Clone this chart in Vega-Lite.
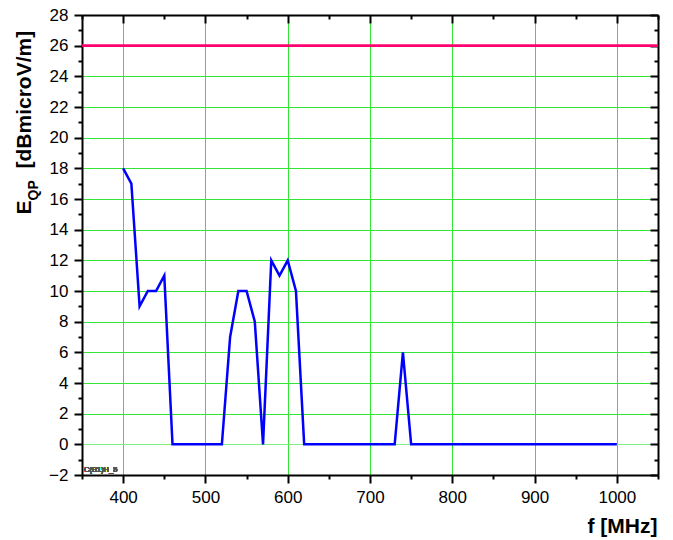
{
  "$schema": "https://vega.github.io/schema/vega-lite/v6.json",
  "width": 576,
  "height": 460,
  "autosize": {"type": "none"},
  "padding": {"left": 82, "top": 15, "right": 15, "bottom": 65},
  "background": "white",
  "config": {
    "view": {"stroke": null},
    "font": "Liberation Sans",
    "axis": {
      "labelFont": "Liberation Sans",
      "titleFont": "Liberation Sans",
      "labelColor": "black",
      "titleColor": "black",
      "domainColor": "black"
    }
  },
  "data": {
    "values": [
      {"f": 400, "v": 18}, {"f": 410, "v": 17}, {"f": 420, "v": 9}, {"f": 430, "v": 10},
      {"f": 440, "v": 10}, {"f": 450, "v": 11}, {"f": 460, "v": 0}, {"f": 470, "v": 0},
      {"f": 480, "v": 0}, {"f": 490, "v": 0}, {"f": 500, "v": 0}, {"f": 510, "v": 0},
      {"f": 520, "v": 0}, {"f": 530, "v": 7}, {"f": 540, "v": 10}, {"f": 550, "v": 10},
      {"f": 560, "v": 8}, {"f": 570, "v": 0}, {"f": 580, "v": 12}, {"f": 590, "v": 11},
      {"f": 600, "v": 12}, {"f": 610, "v": 10}, {"f": 620, "v": 0}, {"f": 630, "v": 0},
      {"f": 640, "v": 0}, {"f": 650, "v": 0}, {"f": 660, "v": 0}, {"f": 670, "v": 0},
      {"f": 680, "v": 0}, {"f": 690, "v": 0}, {"f": 700, "v": 0}, {"f": 710, "v": 0},
      {"f": 720, "v": 0}, {"f": 730, "v": 0}, {"f": 740, "v": 6}, {"f": 750, "v": 0},
      {"f": 760, "v": 0}, {"f": 770, "v": 0}, {"f": 780, "v": 0}, {"f": 790, "v": 0},
      {"f": 800, "v": 0}, {"f": 810, "v": 0}, {"f": 820, "v": 0}, {"f": 830, "v": 0},
      {"f": 840, "v": 0}, {"f": 850, "v": 0}, {"f": 860, "v": 0}, {"f": 870, "v": 0},
      {"f": 880, "v": 0}, {"f": 890, "v": 0}, {"f": 900, "v": 0}, {"f": 910, "v": 0},
      {"f": 920, "v": 0}, {"f": 930, "v": 0}, {"f": 940, "v": 0}, {"f": 950, "v": 0},
      {"f": 960, "v": 0}, {"f": 970, "v": 0}, {"f": 980, "v": 0}, {"f": 990, "v": 0},
      {"f": 1000, "v": 0}
    ]
  },
  "layer": [
    {
      "mark": {"type": "line", "color": "#0000ff", "strokeWidth": 2.5},
      "encoding": {
        "x": {
          "field": "f", "type": "quantitative",
          "scale": {"domain": [350, 1050], "nice": false, "zero": false},
          "axis": {
            "orient": "bottom",
            "values": [400, 500, 600, 700, 800, 900, 1000],
            "format": "d",
            "labelFontSize": 17,
            "labelPadding": 6,
            "tickSize": 8,
            "tickWidth": 2,
            "tickColor": "black",
            "domainWidth": 2,
            "grid": true,
            "gridColor": "#33e633",
            "title": "f [MHz]",
            "titleFontSize": 21,
            "titleFontWeight": "bold",
            "titleAnchor": "end",
            "titleAlign": "right",
            "titleBaseline": "alphabetic",
            "titleX": 575,
            "titleY": 57
          }
        },
        "y": {
          "field": "v", "type": "quantitative",
          "scale": {"domain": [-2, 28], "nice": false, "zero": false},
          "axis": {
            "orient": "left",
            "values": [-2, 0, 2, 4, 6, 8, 10, 12, 14, 16, 18, 20, 22, 24, 26, 28],
            "format": "d",
            "labelFontSize": 17,
            "labelPadding": 6,
            "tickSize": 8,
            "tickWidth": 2,
            "tickColor": "black",
            "domainWidth": 2,
            "grid": true,
            "gridColor": {"condition": {"test": "datum.value === 0", "value": "#80f080"}, "value": "#33e633"},
            "title": "[dBmicroV/m]",
            "titleFontSize": 21,
            "titleFontWeight": "bold",
            "titleAngle": 270,
            "titleAlign": "left",
            "titleBaseline": "alphabetic",
            "titleX": -52,
            "titleY": 153
          }
        }
      }
    },
    {
      "data": {"values": [{"f": 350, "lim": 26}, {"f": 1050, "lim": 26}]},
      "mark": {"type": "line", "color": "#ff0070", "strokeWidth": 2.5},
      "encoding": {
        "x": {
          "field": "f", "type": "quantitative",
          "axis": {
            "orient": "top",
            "values": [400, 500, 600, 700, 800, 900, 1000],
            "labels": false,
            "grid": false,
            "tickSize": -8,
            "tickWidth": 2,
            "tickColor": "black",
            "domainWidth": 2,
            "title": null
          }
        },
        "y": {
          "field": "lim", "type": "quantitative",
          "axis": {
            "orient": "right",
            "values": [-2, 0, 2, 4, 6, 8, 10, 12, 14, 16, 18, 20, 22, 24, 26, 28],
            "labels": false,
            "grid": false,
            "tickSize": -8,
            "tickWidth": 2,
            "tickColor": "black",
            "domainWidth": 2,
            "title": null
          }
        }
      }
    },
    {
      "data": {"values": [{"f": 350, "lim": 26}, {"f": 1050, "lim": 26}]},
      "mark": {"type": "line", "color": "#ff0070", "strokeWidth": 2.5},
      "encoding": {
        "x": {
          "field": "f", "type": "quantitative",
          "axis": {
            "orient": "top",
            "values": [350, 450, 550, 650, 750, 850, 950, 1050],
            "labels": false,
            "grid": false,
            "domain": false,
            "tickSize": -4,
            "tickWidth": 2,
            "tickColor": "black",
            "title": null
          }
        },
        "y": {
          "field": "lim", "type": "quantitative",
          "axis": {
            "orient": "right",
            "values": [-1, 1, 3, 5, 7, 9, 11, 13, 15, 17, 19, 21, 23, 25, 27],
            "labels": false,
            "grid": false,
            "domain": false,
            "tickSize": -4,
            "tickWidth": 2,
            "tickColor": "black",
            "title": null
          }
        }
      }
    },
    {
      "mark": {"type": "text", "align": "left", "baseline": "bottom", "dx": 2, "dy": -1, "fontSize": 7.5, "color": "#555555", "font": "Liberation Sans"},
      "encoding": {
        "x": {
          "datum": 350, "type": "quantitative",
          "axis": {
            "orient": "bottom",
            "values": [350, 450, 550, 650, 750, 850, 950, 1050],
            "labels": false, "domain": false, "grid": false,
            "tickSize": 4,
            "tickWidth": 2,
            "tickColor": "black",
            "title": "QP",
            "titleFontSize": 14,
            "titleFontWeight": "bold",
            "titleAngle": 270,
            "titleAlign": "left",
            "titleBaseline": "alphabetic",
            "titleX": -45,
            "titleY": -275
          }
        },
        "y": {
          "datum": -2, "type": "quantitative",
          "axis": {
            "orient": "left",
            "values": [-1, 1, 3, 5, 7, 9, 11, 13, 15, 17, 19, 21, 23, 25, 27],
            "labels": false, "domain": false, "grid": false,
            "tickSize": 4,
            "tickWidth": 2,
            "tickColor": "black",
            "title": "E",
            "titleFontSize": 21,
            "titleFontWeight": "bold",
            "titleAngle": 270,
            "titleAlign": "left",
            "titleBaseline": "alphabetic",
            "titleX": -52,
            "titleY": 199
          }
        },
        "text": {"value": "C(B1)H_5"}
      }
    }
  ],
  "resolve": {"axis": {"x": "independent", "y": "independent"}}
}
